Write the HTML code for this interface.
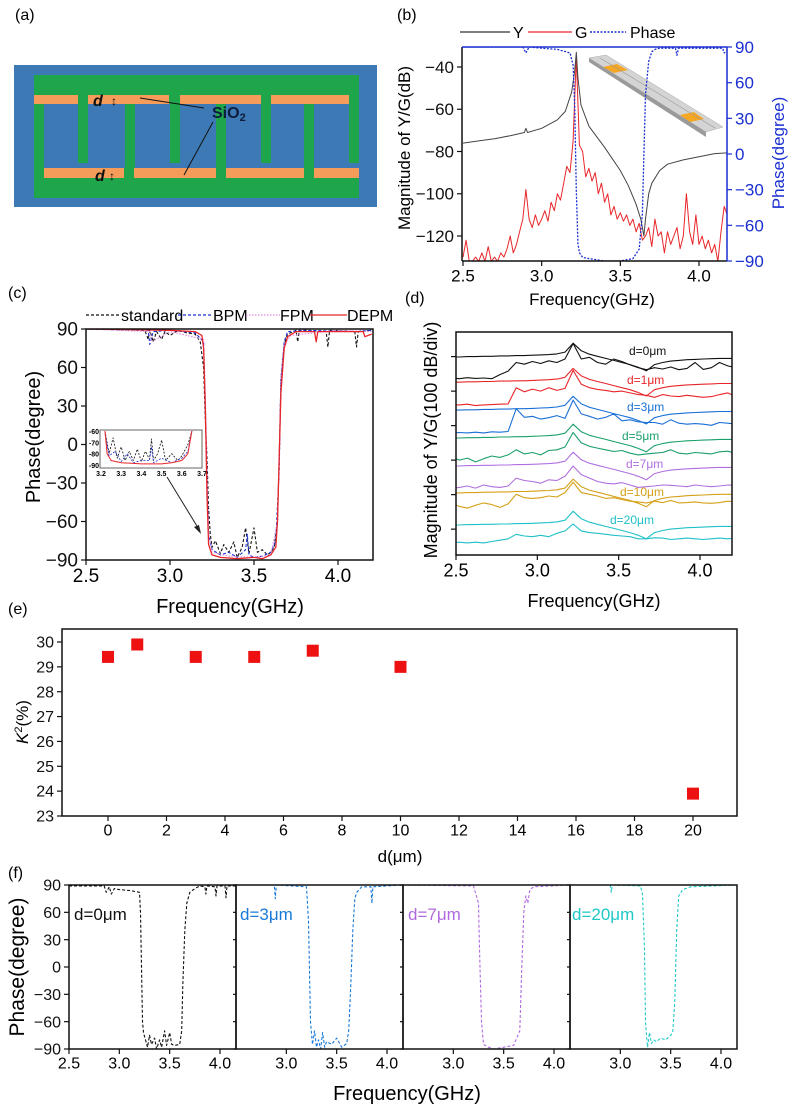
<!DOCTYPE html>
<html><head><meta charset="utf-8">
<style>
html,body{margin:0;padding:0;background:#fff;}
svg{display:block;font-family:"Liberation Sans",Arial,sans-serif;}
</style></head>
<body>
<svg id="fig" width="798" height="1115" viewBox="0 0 798 1115" xmlns="http://www.w3.org/2000/svg">
<defs>
<clipPath id="clipB"><rect x="462" y="47" width="265" height="214"/></clipPath>
<clipPath id="clipC"><rect x="86" y="329" width="287" height="231"/></clipPath>
<clipPath id="clipD"><rect x="456" y="332" width="276" height="223"/></clipPath>
<clipPath id="clipI"><rect x="100" y="430" width="102" height="38"/></clipPath>
<clipPath id="clipF0"><rect x="69" y="885" width="167" height="164"/></clipPath>
<clipPath id="clipF1"><rect x="236" y="885" width="167" height="164"/></clipPath>
<clipPath id="clipF2"><rect x="403" y="885" width="167" height="164"/></clipPath>
<clipPath id="clipF3"><rect x="570" y="885" width="167" height="164"/></clipPath>
</defs>

<!-- panel labels -->
<text x="15" y="20" font-size="16">(a)</text>
<text x="397" y="20" font-size="16">(b)</text>
<text x="8" y="298" font-size="16">(c)</text>
<text x="405" y="303" font-size="16">(d)</text>
<text x="8" y="614" font-size="16">(e)</text>
<text x="8" y="878" font-size="16">(f)</text>

<!-- panel (a) schematic -->
<g>
<rect x="14" y="65" width="363" height="142" fill="#3d7ab5"/>
<rect x="34" y="75" width="325" height="29" fill="#1fa64b"/>
<rect x="34" y="168" width="325" height="30" fill="#1fa64b"/>
<g fill="#1fa64b">
<rect x="78" y="100" width="10" height="63"/><rect x="170" y="100" width="10" height="63"/><rect x="261" y="100" width="10" height="63"/><rect x="349" y="100" width="10" height="63"/>
<rect x="34" y="100" width="10" height="75"/><rect x="125" y="100" width="10" height="75"/><rect x="216" y="100" width="10" height="75"/><rect x="304" y="100" width="10" height="75"/>
</g>
<g fill="#f59c5a">
<rect x="34" y="95" width="44" height="9"/><rect x="88" y="95" width="81" height="9"/><rect x="180" y="95" width="81" height="9"/><rect x="271" y="95" width="78" height="9"/>
<rect x="44" y="168" width="80" height="10"/><rect x="134" y="168" width="82" height="10"/><rect x="226" y="168" width="78" height="10"/><rect x="314" y="168" width="45" height="10"/>
</g>
<text x="93" y="106" font-size="16" font-weight="bold" font-style="italic" fill="#111">d</text>
<text x="111" y="105" font-size="12" fill="#111">↕</text>
<text x="95" y="181" font-size="16" font-weight="bold" font-style="italic" fill="#111">d</text>
<text x="109" y="180" font-size="12" fill="#111">↕</text>
<text x="212" y="118" font-size="16" font-weight="bold" fill="#0c1c3a">SiO<tspan font-size="11" dy="3">2</tspan></text>
<line x1="204" y1="108" x2="140" y2="98" stroke="#111" stroke-width="1"/>
<line x1="213" y1="122" x2="184" y2="175" stroke="#111" stroke-width="1"/>
</g>

<!-- panel (b) static -->
<g>
<line x1="460" y1="32" x2="510" y2="32" stroke="#333" stroke-width="1.3"/>
<text x="513" y="38" font-size="16">Y</text>
<line x1="528" y1="32" x2="572" y2="32" stroke="#e8262a" stroke-width="1.3"/>
<text x="575" y="38" font-size="16">G</text>
<line x1="590" y1="32" x2="626" y2="32" stroke="#1a2fd0" stroke-width="1.5" stroke-dasharray="2,1.5"/>
<text x="630" y="38" font-size="16">Phase</text>
</g>
<text transform="translate(410,148) rotate(-90)" text-anchor="middle" font-size="17">Magnitude of Y/G(dB)</text>
<text transform="translate(784,153) rotate(-90)" text-anchor="middle" font-size="17" fill="#1a2fd0">Phase(degree)</text>
<text x="592" y="305" text-anchor="middle" font-size="17">Frequency(GHz)</text>
<g>
<polygon points="589,58 606,55 723,127 706,132" fill="#d4d4d4" stroke="#aaa" stroke-width="0.5"/>
<polygon points="589,58 706,132 706,137 589,62" fill="#9a9a9a"/>
<polygon points="603,67 617,64 628,70 614,73" fill="#f5a623"/>
<polygon points="680,115 694,112 704,119 690,122" fill="#f5a623"/>
<line x1="600" y1="58" x2="715" y2="128" stroke="#999" stroke-width="0.6"/>
</g>

<!-- panel (c) static -->
<g>
<line x1="86" y1="315" x2="120" y2="315" stroke="#111" stroke-width="1.2" stroke-dasharray="3,2"/>
<text x="121" y="321" font-size="16">standard</text>
<line x1="178" y1="315" x2="213" y2="315" stroke="#1a2fd0" stroke-width="1.2" stroke-dasharray="3,2"/>
<text x="213" y="321" font-size="16">BPM</text>
<line x1="246" y1="315" x2="280" y2="315" stroke="#e08ae0" stroke-width="1.2" stroke-dasharray="1.5,1.5"/>
<text x="280" y="321" font-size="16">FPM</text>
<line x1="310" y1="315" x2="347" y2="315" stroke="#e8262a" stroke-width="1.3"/>
<text x="347" y="321" font-size="16">DEPM</text>
</g>
<text transform="translate(40,437) rotate(-90)" text-anchor="middle" font-size="20">Phase(degree)</text>
<text x="230" y="613" text-anchor="middle" font-size="20">Frequency(GHz)</text>
<line x1="167" y1="477" x2="200" y2="531" stroke="#222" stroke-width="1"/>
<polygon points="201,534 194,527 199,525" fill="#222"/>

<!-- panel (d) static -->
<text transform="translate(437,440) rotate(-90)" text-anchor="middle" font-size="18">Magnitude of Y/G(100 dB/div)</text>
<text x="594" y="607" text-anchor="middle" font-size="18">Frequency(GHz)</text>
<g font-size="12">
<text x="629" y="355" fill="#111">d=0μm</text>
<text x="627" y="384" fill="#e8262a">d=1μm</text>
<text x="627" y="411" fill="#1a6fd6">d=3μm</text>
<text x="622" y="440" fill="#1aa06a">d=5μm</text>
<text x="626" y="468" fill="#b070e0">d=7μm</text>
<text x="620" y="496" fill="#d4a017">d=10μm</text>
<text x="610" y="524" fill="#20c0c8">d=20μm</text>
</g>

<!-- panel (e) static -->
<text transform="translate(28,722) rotate(-90)" text-anchor="middle" font-size="17"><tspan font-style="italic">K</tspan><tspan font-size="11" dy="-6">2</tspan><tspan dy="6">(%)</tspan></text>
<text x="400" y="862" text-anchor="middle" font-size="17">d(μm)</text>

<!-- panel (f) static -->
<text transform="translate(24,967) rotate(-90)" text-anchor="middle" font-size="21">Phase(degree)</text>
<text x="407" y="1100" text-anchor="middle" font-size="20">Frequency(GHz)</text>
<text x="74" y="920" font-size="17" fill="#111">d=0μm</text>
<text x="240" y="920" font-size="17" fill="#1a7ad8">d=3μm</text>
<text x="408" y="920" font-size="17" fill="#b06ae0">d=7μm</text>
<text x="572" y="920" font-size="17" fill="#20c8c8">d=20μm</text>
</svg>

<script>
// ---------- data: panel (b) ----------
const bYFreq = [2.5,2.6,2.7,2.8,2.89,2.9,2.91,3.0,3.1,3.15,3.19,3.21,3.22,3.23,3.25,3.3,3.4,3.5,3.55,3.6,3.63,3.65,3.66,3.68,3.7,3.75,3.8,3.9,4.0,4.1,4.2];
const bYVals = [-76,-75,-74,-72.5,-71,-69,-71,-69,-65,-61,-52,-42,-33,-45,-58,-68,-78,-89,-96,-105,-112,-120,-112,-100,-95,-89,-86,-84,-82.5,-81,-80.5];
const bGStart = 2.5, bGStep = 0.02;
const bGVals = [-130,-122,-132,-132,-130,-132,-128,-132,-125,-132,-130,-132,-128,-130,-126,-120,-128,-124,-118,-112,-98,-112,-116,-110,-115,-112,-108,-113,-104,-108,-100,-103,-95,-87,-90,-75,-35,-77,-80,-92,-88,-94,-90,-100,-95,-104,-100,-110,-106,-112,-109,-113,-110,-115,-112,-118,-114,-122,-120,-116,-125,-112,-120,-118,-128,-118,-124,-120,-116,-126,-120,-100,-118,-124,-110,-124,-120,-126,-122,-128,-124,-132,-118,-106,-110,-118];
const bPFreq = [2.5,2.88,2.9,2.92,3.0,3.1,3.18,3.2,3.21,3.22,3.23,3.24,3.26,3.3,3.4,3.5,3.58,3.62,3.64,3.65,3.66,3.68,3.7,3.72,3.75,3.85,3.86,3.87,4.15,4.16,4.2];
const bPVals = [90,90,85,90,89,88,85,75,40,-30,-75,-83,-87,-88,-90,-90,-88,-80,-50,0,50,78,86,88,89,89,83,89,89,85,89];
const bXTicks = [2.5,3.0,3.5,4.0];
const bXLabels = ["2.5","3.0","3.5","4.0"];
const bYTicks = [-40,-60,-80,-100,-120];
const bY2Ticks = [90,60,30,0,-30,-60,-90];

// ---------- data: panel (c) ----------
const cStdF = [2.5,2.85,2.87,2.88,2.9,2.92,2.95,2.97,3.0,3.05,3.1,3.15,3.18,3.2,3.21,3.22,3.23,3.24,3.25,3.27,3.3,3.32,3.35,3.38,3.4,3.43,3.45,3.47,3.5,3.52,3.55,3.58,3.6,3.62,3.64,3.65,3.66,3.68,3.7,3.75,3.76,3.77,3.8,3.93,3.94,3.95,4.1,4.11,4.12,4.2];
const cStdV = [90,89,82,89,80,88,82,88,85,89,87,86,80,60,20,-10,-50,-70,-80,-75,-85,-78,-84,-76,-88,-80,-65,-85,-65,-84,-82,-86,-84,-80,-60,-10,50,78,86,89,80,89,89,88,76,89,88,76,88,89];
const cBpmF = [2.5,2.87,2.88,2.9,3.0,3.15,3.2,3.21,3.22,3.23,3.25,3.3,3.35,3.4,3.45,3.46,3.47,3.5,3.55,3.6,3.63,3.65,3.66,3.68,3.7,3.8,4.1,4.2];
const cBpmV = [90,89,78,88,89,87,80,30,-30,-70,-82,-86,-84,-88,-82,-70,-86,-88,-87,-84,-75,-20,50,80,88,89,88,89];
const cFpmF = [2.5,2.88,2.89,3.0,3.2,3.21,3.22,3.23,3.25,3.35,3.5,3.6,3.64,3.65,3.66,3.68,3.72,4.0,4.2];
const cFpmV = [90,88,80,88,82,40,-20,-70,-84,-87,-88,-86,-60,-10,50,78,85,89,88];
const cDepmF = [2.5,3.0,3.15,3.19,3.2,3.21,3.22,3.23,3.25,3.3,3.4,3.5,3.55,3.6,3.63,3.64,3.65,3.66,3.68,3.7,3.75,3.86,3.87,3.88,4.15,4.16,4.2];
const cDepmV = [90,89,88,85,75,30,-40,-78,-86,-88,-89,-88,-89,-86,-80,-60,-10,40,75,84,88,88,80,88,88,84,86];
const cYTicks = [90,60,30,0,-30,-60,-90];
// inset
const iStdF = [3.22,3.24,3.26,3.28,3.3,3.32,3.34,3.36,3.38,3.4,3.42,3.44,3.45,3.46,3.48,3.5,3.52,3.55,3.58,3.6,3.63,3.65];
const iStdV = [-60,-80,-66,-84,-74,-86,-78,-86,-76,-87,-78,-85,-67,-86,-80,-68,-86,-80,-86,-82,-72,-60];
const iBpmF = [3.22,3.24,3.27,3.3,3.33,3.36,3.4,3.44,3.45,3.46,3.5,3.55,3.6,3.63,3.65];
const iBpmV = [-62,-82,-78,-87,-80,-88,-86,-86,-74,-88,-84,-88,-84,-78,-60];
const iDepmF = [3.22,3.23,3.25,3.3,3.4,3.5,3.55,3.6,3.63,3.65];
const iDepmV = [-60,-80,-86,-88,-89,-89,-88,-86,-80,-60];
const iXTicks = [3.2,3.3,3.4,3.5,3.6,3.7];
const iYTicks = [-60,-70,-80,-90];

// ---------- data: panel (d) ----------
const dStart = 2.47, dStep = 0.05;
const dYShape = [0,0,1,1,2,2,3,3,4,4,5,6,7,9,14,40,18,8,2,-4,-10,-16,-22,-30,-40,-22,-16,-12,-10,-8,-7,-6,-5,-4,-4,-4];
const dYBase = [574,501,420,339,258,180,87];
const dGBase = [513,435,354,275,188,136,35];
const dG0 = [0,-2,1,-1,0,-2,10,20,45,40,48,42,50,45,55,100,55,60,45,40,55,48,38,30,24,30,26,32,24,28,45,25,30,45,35,30];
const dG1 = [0,0,2,-2,0,1,2,3,50,38,46,40,50,42,48,100,60,50,45,42,38,40,35,30,28,22,30,26,24,28,25,22,24,30,35,25];
const dG3 = [0,1,0,2,0,3,2,4,70,45,48,40,44,50,42,95,55,48,40,45,55,35,38,32,30,30,25,38,28,25,27,25,22,30,28,25];
const dG5 = [10,0,6,-5,4,12,8,15,30,18,22,15,28,30,38,80,50,40,35,30,25,28,20,15,18,20,22,30,20,18,22,20,18,24,26,20];
const dG7 = [5,8,12,6,15,10,8,12,35,28,25,20,30,28,40,70,45,35,25,20,18,22,15,8,10,12,15,14,12,10,15,12,10,12,15,14];
const dG10 = [15,5,0,8,15,10,2,12,40,30,28,30,35,32,45,75,45,40,35,28,30,25,20,18,15,20,16,22,15,16,18,15,14,16,20,18];
const dG20 = [0,2,0,2,0,4,8,12,25,20,18,22,18,28,35,55,35,30,28,25,22,20,18,12,12,15,14,10,12,14,12,10,12,14,12,14];
const dYTicks = [75,175,275,375,475,575];

// ---------- data: panel (e) ----------
const eD = [0,1,3,5,7,10,20];
const eK2 = [29.4,29.9,29.4,29.4,29.65,29.0,23.9];
const eXTicks = [0,2,4,6,8,10,12,14,16,18,20];
const eYTicks = [23,24,25,26,27,28,29,30];

// ---------- data: panel (f) ----------
const f0F = [2.5,2.85,2.87,2.9,2.92,2.95,3.0,3.1,3.2,3.21,3.22,3.23,3.24,3.26,3.28,3.3,3.32,3.35,3.37,3.4,3.42,3.45,3.47,3.5,3.52,3.55,3.6,3.62,3.63,3.65,3.67,3.7,3.75,3.8,3.85,3.86,3.87,3.95,3.96,3.97,4.05,4.06,4.07,4.15];
const f0V = [89,89,82,88,80,86,85,84,82,60,0,-60,-72,-80,-88,-75,-85,-78,-90,-80,-88,-70,-86,-72,-85,-86,-85,-70,-20,40,70,82,86,89,88,80,89,88,78,89,89,76,89,89];
const f3F = [2.5,2.88,2.89,2.9,3.2,3.22,3.24,3.26,3.28,3.3,3.32,3.34,3.36,3.38,3.4,3.45,3.5,3.55,3.6,3.62,3.64,3.66,3.68,3.7,3.75,3.84,3.85,3.86,4.15];
const f3V = [90,90,75,90,88,50,-60,-85,-70,-88,-80,-90,-72,-88,-82,-85,-78,-88,-84,-70,-20,40,75,82,88,88,70,88,90];
const f7F = [2.5,3.2,3.25,3.26,3.28,3.3,3.35,3.4,3.5,3.6,3.66,3.68,3.7,3.72,3.74,3.76,3.8,4.15];
const f7V = [90,89,70,20,-60,-85,-88,-90,-88,-86,-70,0,60,78,70,85,88,90];
const f20F = [2.5,2.9,2.91,2.92,3.2,3.22,3.24,3.25,3.27,3.29,3.31,3.33,3.36,3.4,3.45,3.5,3.52,3.54,3.56,3.58,3.62,3.7,4.15];
const f20V = [90,90,82,90,89,80,20,-60,-88,-72,-84,-80,-82,-78,-80,-75,-72,-40,40,78,85,88,90];
const fYTicks = [90,60,30,0,-30,-60,-90];

// ---------- helpers ----------
const NS = 'http://www.w3.org/2000/svg';
const svg = document.getElementById('fig');
function mk(tag, attrs, parent) {
  const e = document.createElementNS(NS, tag);
  for (const k in attrs) e.setAttribute(k, attrs[k]);
  (parent || svg).appendChild(e);
  return e;
}
function lin(d0, d1, r0, r1) { return v => r0 + (v - d0) * (r1 - r0) / (d1 - d0); }
function seriesPath(xs, ys, sx, sy, color, w, dash, clip, name) {
  let d = '';
  const n = Math.min(xs.length, ys.length);
  for (let i = 0; i < n; i++) d += (i ? 'L' : 'M') + sx(xs[i]).toFixed(1) + ',' + sy(ys[i]).toFixed(1);
  const p = mk('path', {d: d, fill: 'none', stroke: color, 'stroke-width': w, 'stroke-linejoin': 'round'});
  if (dash) p.setAttribute('stroke-dasharray', dash);
  if (clip) p.setAttribute('clip-path', 'url(#' + clip + ')');
  
  
  return p;
}
function gridX(start, step, n) { const a = []; for (let i = 0; i < n; i++) a.push(+(start + i * step).toFixed(3)); return a; }
function addOffset(arr, off) { return arr.map(v => v + off); }
function frame(x, y, w, h, name, stroke) {
  const r = mk('rect', {x: x, y: y, width: w, height: h, fill: 'none', stroke: stroke || '#111', 'stroke-width': 1.5});
  
  
}
function xTicks(vals, labels, sx, yBase, fs, name, showLabels) {
  vals.forEach((v, i) => {
    const t = mk('line', {x1: sx(v), x2: sx(v), y1: yBase, y2: yBase + 5, stroke: '#111', 'stroke-width': 1.2});
    
    
    if (showLabels === false) return;
    const tx = mk('text', {x: sx(v), y: yBase + 6 + fs * 0.85, 'text-anchor': 'middle', 'font-size': fs});
    tx.textContent = labels[i];
    
    
  });
}
function yTicks(vals, sy, xBase, dir, fs, color, name, fmt, len) {
  vals.forEach(v => {
    const L = len || 5;
    const t = mk('line', {x1: xBase, x2: xBase + dir * L, y1: sy(v), y2: sy(v), stroke: color, 'stroke-width': 1.2});
    
    
    if (!fs) return;
    const tx = mk('text', {x: xBase + dir * (L + 3), y: sy(v) + fs * 0.35, 'text-anchor': dir < 0 ? 'end' : 'start', 'font-size': fs, fill: color});
    tx.textContent = fmt ? fmt(v) : String(v).replace('-', '\u2212');
    
    
  });
}

// ---------- panel (b) ----------
{
  const sx = lin(2.5, 4.0, 463, 699), sy = lin(-40, -120, 67, 236), sy2 = lin(90, -90, 47, 261);
  const gF = gridX(bGStart, bGStep, bGVals.length);
  seriesPath(gF, bGVals, sx, sy, '#e8262a', 1, null, 'clipB', 'g-curve-b');
  seriesPath(bYFreq, bYVals, sx, sy, '#444', 1, null, 'clipB', 'y-curve-b');
  seriesPath(bPFreq, bPVals, sx, sy2, '#1a2fd0', 1.3, '2,1.5', 'clipB', 'phase-curve-b');
  mk('line', {x1: 462, y1: 47, x2: 462, y2: 261, stroke: '#111', 'stroke-width': 1.5});
  mk('line', {x1: 462, y1: 261, x2: 727, y2: 261, stroke: '#111', 'stroke-width': 1.5});
  mk('line', {x1: 462, y1: 47, x2: 727, y2: 47, stroke: '#1a2fd0', 'stroke-width': 1.5});
  mk('line', {x1: 727, y1: 47, x2: 727, y2: 261, stroke: '#1a2fd0', 'stroke-width': 1.5});
  xTicks(bXTicks, bXLabels, sx, 261, 17, 'x-axis-b');
  yTicks(bYTicks, sy, 462, -1, 17, '#111', 'y-axis-b');
  yTicks(bY2Ticks, sy2, 727, 1, 17, '#1a2fd0', 'y2-axis-b');
}

// ---------- panel (c) ----------
{
  const sx = lin(2.5, 4.0, 86, 338), sy = lin(90, -90, 329, 560);
  seriesPath(cStdF, cStdV, sx, sy, '#111', 1.1, '3,2', 'clipC', 'standard-curve');
  seriesPath(cBpmF, cBpmV, sx, sy, '#1a2fd0', 1.1, '3,2', 'clipC', 'bpm-curve');
  seriesPath(cFpmF, cFpmV, sx, sy, '#e08ae0', 1.1, '1.5,1.5', 'clipC', 'fpm-curve');
  seriesPath(cDepmF, cDepmV, sx, sy, '#e8262a', 1.3, null, 'clipC', 'depm-curve');
  frame(86, 329, 287, 231, 'plot-frame-c');
  xTicks(bXTicks, bXLabels, sx, 560, 19, 'x-axis-c');
  yTicks(cYTicks, sy, 86, -1, 19, '#111', 'y-axis-c');
  // inset
  const ix = lin(3.2, 3.7, 101, 202), iy = lin(-60, -90, 431, 465);
  const bg = mk('rect', {x: 100, y: 430, width: 102, height: 38, fill: '#fff', stroke: '#666', 'stroke-width': 1});
  
  
  seriesPath(iStdF, iStdV, ix, iy, '#111', 0.8, '2,1.5', 'clipI', 'inset-standard-curve');
  seriesPath(iBpmF, iBpmV, ix, iy, '#1a2fd0', 0.8, '2,1.5', 'clipI', 'inset-bpm-curve');
  seriesPath(iDepmF, iDepmV, ix, iy, '#e8262a', 1, null, 'clipI', 'inset-depm-curve');
  iXTicks.forEach(v => {
    const t = mk('text', {x: ix(v), y: 476, 'text-anchor': 'middle', 'font-size': 7, 'font-weight': 'bold'});
    t.textContent = v.toFixed(1);
    
    
  });
  iYTicks.forEach(v => {
    const t = mk('text', {x: 99, y: iy(v) + 3, 'text-anchor': 'end', 'font-size': 7, 'font-weight': 'bold'});
    t.textContent = String(v).replace('-', '-');
    
    
  });
}

// ---------- panel (d) ----------
{
  const sx = lin(2.5, 4.0, 456, 700), sy = v => 555 - v * 0.345;
  const fx = gridX(dStart, dStep, dYShape.length);
  const colors = ['#111', '#e8262a', '#1a6fd6', '#1aa06a', '#b070e0', '#d4a017', '#20c0c8'];
  const gs = [dG0, dG1, dG3, dG5, dG7, dG10, dG20];
  const names = ['d0', 'd1', 'd3', 'd5', 'd7', 'd10', 'd20'];
  for (let k = 0; k < 7; k++) {
    seriesPath(fx, addOffset(dYShape, dYBase[k]), sx, sy, colors[k], 1.1, null, 'clipD', 'y-curve-' + names[k]);
    seriesPath(fx, addOffset(gs[k], dGBase[k]), sx, sy, colors[k], 1.1, null, 'clipD', 'g-curve-' + names[k]);
  }
  frame(456, 332, 276, 223, 'plot-frame-d');
  xTicks(bXTicks, bXLabels, sx, 555, 18, 'x-axis-d');
  yTicks(dYTicks, sy, 456, -1, 0, '#111', 'y-axis-d');
}

// ---------- panel (e) ----------
{
  const sx = lin(0, 20, 108, 693), sy = lin(30, 23, 642, 816);
  frame(62, 629, 675, 187, 'plot-frame-e');
  xTicks(eXTicks, eXTicks.map(String), sx, 816, 16, 'x-axis-e');
  yTicks(eYTicks, sy, 62, -1, 16, '#111', 'y-axis-e');
  for (let i = 0; i < eD.length; i++) {
    const m = mk('rect', {x: sx(eD[i]) - 6, y: sy(eK2[i]) - 6, width: 12, height: 12, fill: '#ee1111'});
    
    
  }
}

// ---------- panel (f) ----------
{
  const sy = lin(90, -90, 885, 1049);
  const fs = [[f0F, f0V], [f3F, f3V], [f7F, f7V], [f20F, f20V]];
  const colors = ['#111', '#1a7ad8', '#b06ae0', '#20c8c8'];
  const names = ['d0', 'd3', 'd7', 'd20'];
  for (let k = 0; k < 4; k++) {
    const x0 = 69 + 167 * k;
    const sx = lin(2.5, 4.0, x0, x0 + 151);
    seriesPath(fs[k][0], fs[k][1], sx, sy, colors[k], 1.1, '3,2', 'clipF' + k, 'phase-curve-f-' + names[k]);
    frame(x0, 885, 167, 164, 'plot-frame-f-' + names[k]);
    const tv = k === 0 ? bXTicks : bXTicks.slice(1);
    const tl = k === 0 ? bXLabels : bXLabels.slice(1);
    xTicks(tv, tl, sx, 1049, 16, 'x-axis-f-' + names[k]);
    if (k === 0) yTicks(fYTicks, sy, x0, -1, 16, '#111', 'y-axis-f');
    else yTicks(fYTicks, sy, x0, -1, 0, '#111', 'y-axis-f-' + names[k], null, 3);
  }
}
</script>
</body></html>
